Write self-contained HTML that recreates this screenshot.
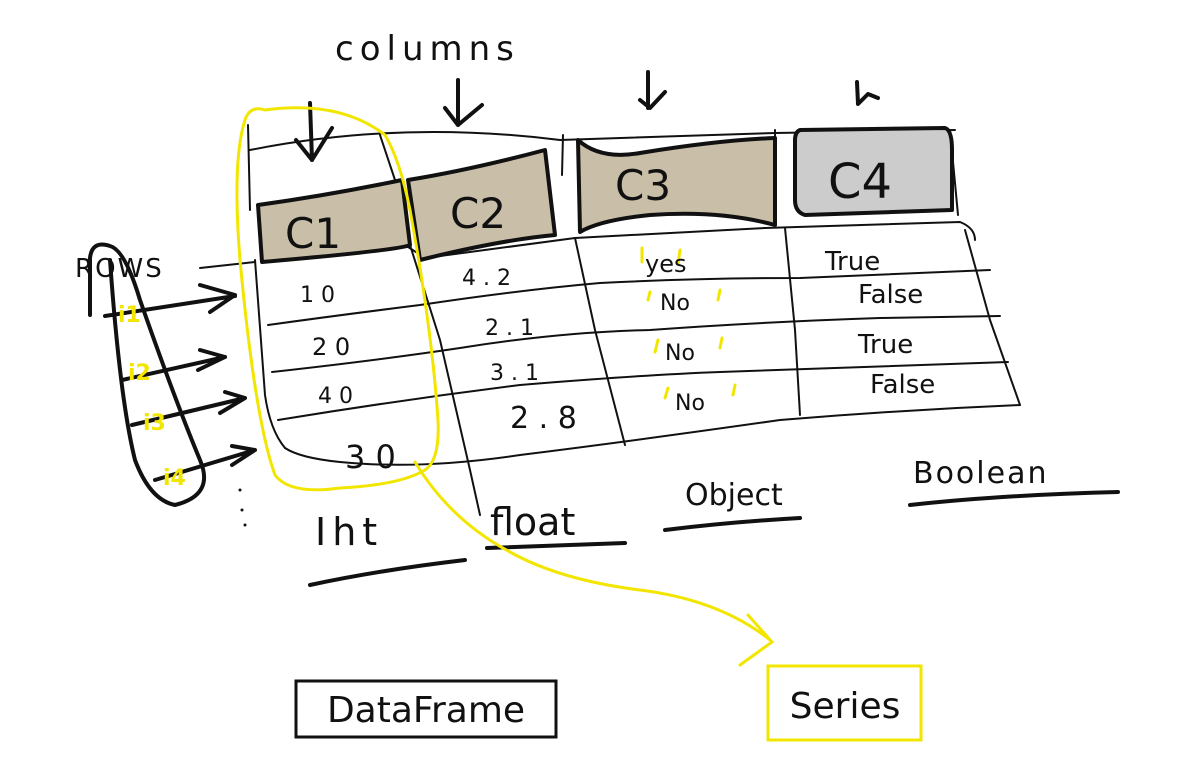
<!DOCTYPE html>
<html><head><meta charset="utf-8"><style>
html,body{margin:0;padding:0;background:#fff;width:1197px;height:773px;overflow:hidden}
svg{display:block}
.h{font-family:"DejaVu Sans","Liberation Sans",sans-serif;fill:#111}
</style></head><body>
<svg width="1197" height="773" viewBox="0 0 1197 773">
<g fill="none" stroke="#111" stroke-linecap="round" stroke-linejoin="round">
<path d="M250 150 Q400 120 560 140 L775 133 L955 130" stroke-width="2"/>
<path d="M200 268 L255 262" stroke-width="2"/>
<path d="M405 245 L425 258 L575 238 L765 228 L960 222 Q975 228 975 240" stroke-width="2"/>
<path d="M268 325 Q340 315 420 305 Q520 290 600 283 Q700 278 800 278 L990 270" stroke-width="2"/>
<path d="M272 372 Q380 360 460 348 Q560 332 650 330 Q760 322 880 318 L1000 316" stroke-width="2"/>
<path d="M278 420 Q400 400 520 385 Q640 375 720 372 Q850 368 1008 362" stroke-width="2"/>
<path d="M285 448 Q300 458 340 462 Q420 470 520 455 Q640 440 780 420 Q900 410 1020 405" stroke-width="2"/>
<path d="M248 125 L250 210 M255 260 L265 395 Q270 430 285 448" stroke-width="2"/>
<path d="M380 135 L395 180 M410 245 L440 340 L470 470 L480 515" stroke-width="2"/>
<path d="M563 135 L562 175 M575 238 L595 330 L625 445" stroke-width="2"/>
<path d="M775 130 L775 215 M785 228 L795 330 L800 415" stroke-width="2"/>
<path d="M950 130 L958 215 M965 230 L990 320 L1020 405" stroke-width="2"/>
<path d="M258 205 Q330 195 402 180 L410 245 Q400 250 262 262 Z" fill="#c9bea8" stroke-width="4"/>
<path d="M408 180 Q470 170 545 150 L555 235 Q500 240 420 260 Z" fill="#c9bea8" stroke-width="4"/>
<path d="M578 140 Q600 160 640 153 Q720 140 775 138 L775 225 Q720 210 650 215 Q600 220 580 232 Z" fill="#c9bea8" stroke-width="4"/>
<path d="M800 130 L945 128 Q952 130 952 150 L952 210 L805 215 Q795 212 795 200 L795 140 Q795 132 800 130 Z" fill="#cccccc" stroke-width="4"/>
<path d="M310 103 L312 160 M296 140 L312 160 L332 128" stroke-width="4"/>
<path d="M458 80 L458 125 M445 108 L458 125 L482 105" stroke-width="4"/>
<path d="M648 72 L648 108 M640 100 L650 108 L665 92" stroke-width="4"/>
<path d="M857 82 L858 104 L868 94 L878 98" stroke-width="4"/>
<path d="M90 315 L90 258 Q92 240 110 246 Q125 250 140 300 Q175 400 200 460 Q215 495 175 505 Q150 500 135 460 Q120 400 110 260" stroke-width="4"/>
<path d="M105 316 L235 296 M200 285 L235 295 L210 312" stroke-width="4"/>
<path d="M122 380 L225 357 M200 350 L225 357 L198 370" stroke-width="4"/>
<path d="M132 425 L245 398 M225 392 L245 398 L220 413" stroke-width="4"/>
<path d="M155 480 L255 450 M232 446 L255 450 L232 465" stroke-width="4"/>
<path d="M310 585 Q380 570 465 560" stroke-width="4"/>
<path d="M487 548 Q550 546 625 543" stroke-width="4"/>
<path d="M665 530 Q730 522 800 518" stroke-width="4"/>
<path d="M910 505 Q1000 495 1118 492" stroke-width="4"/>
<circle cx="240" cy="490" r="1" fill="#111"/><circle cx="242" cy="510" r="1" fill="#111"/><circle cx="245" cy="525" r="1" fill="#111"/>
</g>
<g fill="none" stroke="#f2e600" stroke-width="3" stroke-linecap="round">
<path d="M265 110 Q250 105 245 120 Q232 160 240 260 Q255 420 275 475 Q290 495 340 488 Q400 485 425 470 Q440 460 438 420 Q432 330 410 210 Q400 160 385 135 Q340 100 265 110 Z"/>
<path d="M415 462 Q450 520 510 552 Q560 580 640 590 Q720 600 770 640 M748 615 L772 642 L740 665"/>
<path d="M642 248 L642 262 M680 250 L678 264 M650 292 L648 300 M720 290 L718 300 M658 340 L655 352 M722 338 L720 348 M668 388 L665 398 M735 385 L733 395" stroke-width="3"/>
</g>
<g font-family="'DejaVu Sans','Liberation Sans',sans-serif" fill="#f2e600" font-size="22" font-weight="bold">
<text x="118" y="322">i1</text>
<text x="128" y="380">i2</text>
<text x="143" y="430">i3</text>
<text x="163" y="485">i4</text>
</g>
<g class="h">
<text x="335" y="60" font-size="34" letter-spacing="6">columns</text>
<text x="75" y="277" font-size="26" letter-spacing="2">ROWS</text>
<text x="285" y="248" font-size="42">C1</text>
<text x="450" y="228" font-size="42">C2</text>
<text x="615" y="200" font-size="42">C3</text>
<text x="828" y="198" font-size="48">C4</text>
<text x="300" y="302" font-size="22">1 0</text>
<text x="312" y="355" font-size="24">2 0</text>
<text x="318" y="403" font-size="22">4 0</text>
<text x="345" y="468" font-size="32">3 0</text>
<text x="462" y="285" font-size="22">4 . 2</text>
<text x="485" y="335" font-size="22">2 . 1</text>
<text x="490" y="380" font-size="22">3 . 1</text>
<text x="510" y="428" font-size="30">2 . 8</text>
<text x="645" y="272" font-size="24">yes</text>
<text x="660" y="310" font-size="22">No</text>
<text x="665" y="360" font-size="22">No</text>
<text x="675" y="410" font-size="22">No</text>
<text x="825" y="270" font-size="26">True</text>
<text x="858" y="303" font-size="26">False</text>
<text x="858" y="353" font-size="26">True</text>
<text x="870" y="393" font-size="26">False</text>
<text x="315" y="545" font-size="38" letter-spacing="6">Iht</text>
<text x="490" y="535" font-size="38">float</text>
<text x="685" y="505" font-size="30">Object</text>
<text x="913" y="483" font-size="30" letter-spacing="2">Boolean</text>
</g>
<rect x="296" y="681" width="260" height="56" fill="none" stroke="#111" stroke-width="3"/>
<text x="426" y="722" font-size="36" text-anchor="middle" font-family="'DejaVu Sans','Liberation Sans',sans-serif" fill="#111">DataFrame</text>
<rect x="768" y="666" width="153" height="74" fill="none" stroke="#f2e600" stroke-width="3"/>
<text x="845" y="718" font-size="36" text-anchor="middle" font-family="'DejaVu Sans','Liberation Sans',sans-serif" fill="#111">Series</text>
</svg>
</body></html>
